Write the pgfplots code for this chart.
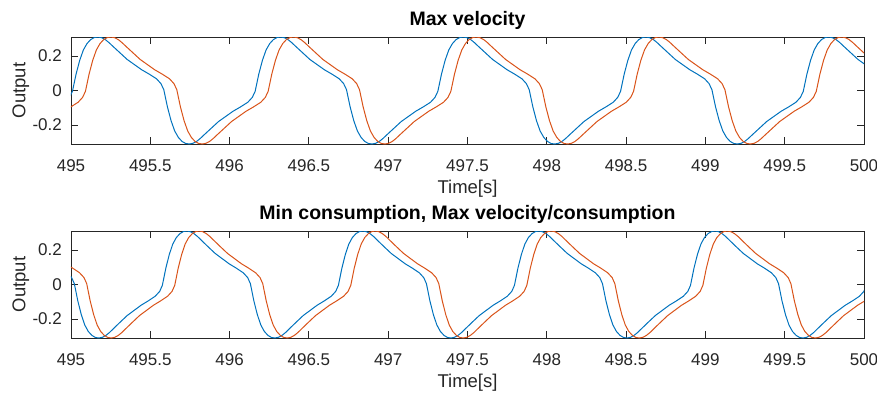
\documentclass[border=0pt]{standalone}
\usepackage{fontspec}
\setmainfont{Liberation Sans}
\usepackage{pgfplots}
\pgfplotsset{compat=1.18}
\definecolor{mblue}{rgb}{0,0.447,0.741}
\definecolor{morange}{rgb}{0.85,0.325,0.098}
\pgfplotsset{
  mstyle/.style={
    scale only axis, width=793pt, height=107pt,
    xmin=495, xmax=500, ymin=-0.31, ymax=0.31,
    xtick={495,495.5,496,496.5,497,497.5,498,498.5,499,499.5,500},
    xticklabels={495,495.5,496,496.5,497,497.5,498,498.5,499,499.5,500},
    ytick={-0.2,0,0.2}, yticklabels={-0.2,0,0.2},
    tick pos=both, tick align=inside, major tick length=7pt,
    axis line style={black!85, line width=0.9pt},
    every tick/.style={black!85, line width=0.9pt},
    xticklabel style={font=\fontsize{17}{17}\selectfont, anchor=base, yshift=-27pt, text=black!85},
    yticklabel style={font=\fontsize{17}{17}\selectfont, anchor=east, inner sep=0pt, xshift=-9pt, text=black!85},
    xlabel={Time[s]}, ylabel={Output},
    xlabel style={font=\fontsize{18.5}{18.5}\selectfont, at={(axis description cs:0.5,0)}, anchor=base, yshift=-49pt, text=black!85},
    ylabel style={font=\fontsize{18.5}{18.5}\selectfont, at={(axis description cs:-0.0574,0.5)}, anchor=base, text=black!85},
    title style={font=\fontsize{19.5}{19.5}\selectfont\bfseries, at={(axis description cs:0.5,1)}, anchor=base, yshift=6pt},
    clip=true,
    every axis plot/.append style={line width=1.0pt},
  }
}
\begin{document}
\begin{tikzpicture}
\useasboundingbox (0,0) rectangle (877pt,392pt);
\begin{axis}[mstyle, at={(71pt,248pt)}, anchor=south west, title={Max velocity}]
\addplot[mblue] coordinates {
(494.963,-0.068) (494.991,-0.040) (495.009,-0.005) (495.032,0.095) (495.055,0.175) (495.078,0.235) (495.101,0.272) (495.124,0.295) (495.147,0.307)
(495.170,0.310) (495.193,0.306) (495.216,0.295) (495.239,0.278) (495.262,0.258) (495.308,0.219) (495.354,0.180) (495.400,0.150) (495.446,0.120) (495.493,0.095) (495.539,0.068) (495.567,0.040) (495.585,0.005) (495.608,-0.095) (495.631,-0.175) (495.654,-0.235) (495.677,-0.272) (495.700,-0.295) (495.723,-0.307)
(495.746,-0.310) (495.769,-0.306) (495.792,-0.295) (495.815,-0.278) (495.838,-0.258) (495.884,-0.219) (495.930,-0.180) (495.976,-0.150) (496.022,-0.120) (496.069,-0.095) (496.115,-0.068) (496.143,-0.040) (496.161,-0.005) (496.184,0.095) (496.207,0.175) (496.230,0.235) (496.253,0.272) (496.276,0.295) (496.299,0.307)
(496.322,0.310) (496.345,0.306) (496.368,0.295) (496.391,0.278) (496.414,0.258) (496.460,0.219) (496.506,0.180) (496.552,0.150) (496.598,0.120) (496.645,0.095) (496.691,0.068) (496.719,0.040) (496.737,0.005) (496.760,-0.095) (496.783,-0.175) (496.806,-0.235) (496.829,-0.272) (496.852,-0.295) (496.875,-0.307)
(496.898,-0.310) (496.921,-0.306) (496.944,-0.295) (496.967,-0.278) (496.990,-0.258) (497.036,-0.219) (497.082,-0.180) (497.128,-0.150) (497.174,-0.120) (497.221,-0.095) (497.267,-0.068) (497.295,-0.040) (497.313,-0.005) (497.336,0.095) (497.359,0.175) (497.382,0.235) (497.405,0.272) (497.428,0.295) (497.451,0.307)
(497.474,0.310) (497.497,0.306) (497.520,0.295) (497.543,0.278) (497.566,0.258) (497.612,0.219) (497.658,0.180) (497.704,0.150) (497.750,0.120) (497.797,0.095) (497.843,0.068) (497.871,0.040) (497.889,0.005) (497.912,-0.095) (497.935,-0.175) (497.958,-0.235) (497.981,-0.272) (498.004,-0.295) (498.027,-0.307)
(498.050,-0.310) (498.073,-0.306) (498.096,-0.295) (498.119,-0.278) (498.142,-0.258) (498.188,-0.219) (498.234,-0.180) (498.280,-0.150) (498.326,-0.120) (498.373,-0.095) (498.419,-0.068) (498.447,-0.040) (498.465,-0.005) (498.488,0.095) (498.511,0.175) (498.534,0.235) (498.557,0.272) (498.580,0.295) (498.603,0.307)
(498.626,0.310) (498.649,0.306) (498.672,0.295) (498.695,0.278) (498.718,0.258) (498.764,0.219) (498.810,0.180) (498.856,0.150) (498.902,0.120) (498.949,0.095) (498.995,0.068) (499.023,0.040) (499.041,0.005) (499.064,-0.095) (499.087,-0.175) (499.110,-0.235) (499.133,-0.272) (499.156,-0.295) (499.179,-0.307)
(499.202,-0.310) (499.225,-0.306) (499.248,-0.295) (499.271,-0.278) (499.294,-0.258) (499.340,-0.219) (499.386,-0.180) (499.432,-0.150) (499.478,-0.120) (499.525,-0.095) (499.571,-0.068) (499.599,-0.040) (499.617,-0.005) (499.640,0.095) (499.663,0.175) (499.686,0.235) (499.709,0.272) (499.732,0.295) (499.755,0.307)
(499.778,0.310) (499.801,0.306) (499.824,0.295) (499.847,0.278) (499.870,0.258) (499.916,0.219) (499.962,0.180) (500.008,0.150)
};
\addplot[morange] coordinates {
(494.952,-0.120) (494.999,-0.095) (495.045,-0.068) (495.073,-0.040) (495.091,-0.005) (495.114,0.095) (495.137,0.175) (495.160,0.235) (495.183,0.272) (495.206,0.295) (495.229,0.307)
(495.252,0.310) (495.275,0.306) (495.298,0.295) (495.321,0.278) (495.344,0.258) (495.390,0.219) (495.436,0.180) (495.482,0.150) (495.528,0.120) (495.575,0.095) (495.621,0.068) (495.649,0.040) (495.667,0.005) (495.690,-0.095) (495.713,-0.175) (495.736,-0.235) (495.759,-0.272) (495.782,-0.295) (495.805,-0.307)
(495.828,-0.310) (495.851,-0.306) (495.874,-0.295) (495.897,-0.278) (495.920,-0.258) (495.966,-0.219) (496.012,-0.180) (496.058,-0.150) (496.104,-0.120) (496.151,-0.095) (496.197,-0.068) (496.225,-0.040) (496.243,-0.005) (496.266,0.095) (496.289,0.175) (496.312,0.235) (496.335,0.272) (496.358,0.295) (496.381,0.307)
(496.404,0.310) (496.427,0.306) (496.450,0.295) (496.473,0.278) (496.496,0.258) (496.542,0.219) (496.588,0.180) (496.634,0.150) (496.680,0.120) (496.727,0.095) (496.773,0.068) (496.801,0.040) (496.819,0.005) (496.842,-0.095) (496.865,-0.175) (496.888,-0.235) (496.911,-0.272) (496.934,-0.295) (496.957,-0.307)
(496.980,-0.310) (497.003,-0.306) (497.026,-0.295) (497.049,-0.278) (497.072,-0.258) (497.118,-0.219) (497.164,-0.180) (497.210,-0.150) (497.256,-0.120) (497.303,-0.095) (497.349,-0.068) (497.377,-0.040) (497.395,-0.005) (497.418,0.095) (497.441,0.175) (497.464,0.235) (497.487,0.272) (497.510,0.295) (497.533,0.307)
(497.556,0.310) (497.579,0.306) (497.602,0.295) (497.625,0.278) (497.648,0.258) (497.694,0.219) (497.740,0.180) (497.786,0.150) (497.832,0.120) (497.879,0.095) (497.925,0.068) (497.953,0.040) (497.971,0.005) (497.994,-0.095) (498.017,-0.175) (498.040,-0.235) (498.063,-0.272) (498.086,-0.295) (498.109,-0.307)
(498.132,-0.310) (498.155,-0.306) (498.178,-0.295) (498.201,-0.278) (498.224,-0.258) (498.270,-0.219) (498.316,-0.180) (498.362,-0.150) (498.408,-0.120) (498.455,-0.095) (498.501,-0.068) (498.529,-0.040) (498.547,-0.005) (498.570,0.095) (498.593,0.175) (498.616,0.235) (498.639,0.272) (498.662,0.295) (498.685,0.307)
(498.708,0.310) (498.731,0.306) (498.754,0.295) (498.777,0.278) (498.800,0.258) (498.846,0.219) (498.892,0.180) (498.938,0.150) (498.984,0.120) (499.031,0.095) (499.077,0.068) (499.105,0.040) (499.123,0.005) (499.146,-0.095) (499.169,-0.175) (499.192,-0.235) (499.215,-0.272) (499.238,-0.295) (499.261,-0.307)
(499.284,-0.310) (499.307,-0.306) (499.330,-0.295) (499.353,-0.278) (499.376,-0.258) (499.422,-0.219) (499.468,-0.180) (499.514,-0.150) (499.560,-0.120) (499.607,-0.095) (499.653,-0.068) (499.681,-0.040) (499.699,-0.005) (499.722,0.095) (499.745,0.175) (499.768,0.235) (499.791,0.272) (499.814,0.295) (499.837,0.307)
(499.860,0.310) (499.883,0.306) (499.906,0.295) (499.929,0.278) (499.952,0.258) (499.998,0.219) (500.044,0.180)
};
\end{axis}
\begin{axis}[mstyle, at={(71pt,54pt)}, anchor=south west, title={Min consumption, Max velocity/consumption}]
\addplot[mblue] coordinates {
(494.976,0.068) (495.004,0.040) (495.021,0.005) (495.043,-0.095) (495.065,-0.175) (495.087,-0.235) (495.109,-0.272) (495.132,-0.295) (495.154,-0.307)
(495.176,-0.310) (495.198,-0.306) (495.220,-0.295) (495.243,-0.278) (495.265,-0.258) (495.309,-0.219) (495.354,-0.180) (495.398,-0.150) (495.442,-0.120) (495.487,-0.095) (495.531,-0.068) (495.559,-0.040) (495.576,-0.005) (495.598,0.095) (495.620,0.175) (495.642,0.235) (495.664,0.272) (495.687,0.295) (495.709,0.307)
(495.731,0.310) (495.753,0.306) (495.775,0.295) (495.798,0.278) (495.820,0.258) (495.864,0.219) (495.909,0.180) (495.953,0.150) (495.997,0.120) (496.042,0.095) (496.086,0.068) (496.114,0.040) (496.131,0.005) (496.153,-0.095) (496.175,-0.175) (496.197,-0.235) (496.219,-0.272) (496.242,-0.295) (496.264,-0.307)
(496.286,-0.310) (496.308,-0.306) (496.330,-0.295) (496.353,-0.278) (496.375,-0.258) (496.419,-0.219) (496.464,-0.180) (496.508,-0.150) (496.552,-0.120) (496.597,-0.095) (496.641,-0.068) (496.669,-0.040) (496.686,-0.005) (496.708,0.095) (496.730,0.175) (496.752,0.235) (496.774,0.272) (496.797,0.295) (496.819,0.307)
(496.841,0.310) (496.863,0.306) (496.885,0.295) (496.908,0.278) (496.930,0.258) (496.974,0.219) (497.019,0.180) (497.063,0.150) (497.107,0.120) (497.152,0.095) (497.196,0.068) (497.224,0.040) (497.241,0.005) (497.263,-0.095) (497.285,-0.175) (497.307,-0.235) (497.329,-0.272) (497.352,-0.295) (497.374,-0.307)
(497.396,-0.310) (497.418,-0.306) (497.440,-0.295) (497.463,-0.278) (497.485,-0.258) (497.529,-0.219) (497.574,-0.180) (497.618,-0.150) (497.662,-0.120) (497.707,-0.095) (497.751,-0.068) (497.779,-0.040) (497.796,-0.005) (497.818,0.095) (497.840,0.175) (497.862,0.235) (497.884,0.272) (497.907,0.295) (497.929,0.307)
(497.951,0.310) (497.973,0.306) (497.995,0.295) (498.018,0.278) (498.040,0.258) (498.084,0.219) (498.129,0.180) (498.173,0.150) (498.217,0.120) (498.262,0.095) (498.306,0.068) (498.334,0.040) (498.351,0.005) (498.373,-0.095) (498.395,-0.175) (498.417,-0.235) (498.439,-0.272) (498.462,-0.295) (498.484,-0.307)
(498.506,-0.310) (498.528,-0.306) (498.550,-0.295) (498.573,-0.278) (498.595,-0.258) (498.639,-0.219) (498.684,-0.180) (498.728,-0.150) (498.772,-0.120) (498.817,-0.095) (498.861,-0.068) (498.889,-0.040) (498.906,-0.005) (498.928,0.095) (498.950,0.175) (498.972,0.235) (498.994,0.272) (499.017,0.295) (499.039,0.307)
(499.061,0.310) (499.083,0.306) (499.105,0.295) (499.128,0.278) (499.150,0.258) (499.194,0.219) (499.239,0.180) (499.283,0.150) (499.327,0.120) (499.372,0.095) (499.416,0.068) (499.444,0.040) (499.461,0.005) (499.483,-0.095) (499.505,-0.175) (499.527,-0.235) (499.549,-0.272) (499.572,-0.295) (499.594,-0.307)
(499.616,-0.310) (499.638,-0.306) (499.660,-0.295) (499.683,-0.278) (499.705,-0.258) (499.749,-0.219) (499.794,-0.180) (499.838,-0.150) (499.882,-0.120) (499.927,-0.095) (499.971,-0.068) (499.999,-0.040) (500.016,-0.005)
};
\addplot[morange] coordinates {
(494.965,0.120) (495.010,0.095) (495.054,0.068) (495.082,0.040) (495.099,0.005) (495.121,-0.095) (495.143,-0.175) (495.165,-0.235) (495.187,-0.272) (495.210,-0.295) (495.232,-0.307)
(495.254,-0.310) (495.276,-0.306) (495.298,-0.295) (495.321,-0.278) (495.343,-0.258) (495.387,-0.219) (495.432,-0.180) (495.476,-0.150) (495.520,-0.120) (495.565,-0.095) (495.609,-0.068) (495.637,-0.040) (495.654,-0.005) (495.676,0.095) (495.698,0.175) (495.720,0.235) (495.742,0.272) (495.765,0.295) (495.787,0.307)
(495.809,0.310) (495.831,0.306) (495.853,0.295) (495.876,0.278) (495.898,0.258) (495.942,0.219) (495.987,0.180) (496.031,0.150) (496.075,0.120) (496.120,0.095) (496.164,0.068) (496.192,0.040) (496.209,0.005) (496.231,-0.095) (496.253,-0.175) (496.275,-0.235) (496.297,-0.272) (496.320,-0.295) (496.342,-0.307)
(496.364,-0.310) (496.386,-0.306) (496.408,-0.295) (496.431,-0.278) (496.453,-0.258) (496.497,-0.219) (496.542,-0.180) (496.586,-0.150) (496.630,-0.120) (496.675,-0.095) (496.719,-0.068) (496.747,-0.040) (496.764,-0.005) (496.786,0.095) (496.808,0.175) (496.830,0.235) (496.852,0.272) (496.875,0.295) (496.897,0.307)
(496.919,0.310) (496.941,0.306) (496.963,0.295) (496.986,0.278) (497.008,0.258) (497.052,0.219) (497.097,0.180) (497.141,0.150) (497.185,0.120) (497.230,0.095) (497.274,0.068) (497.302,0.040) (497.319,0.005) (497.341,-0.095) (497.363,-0.175) (497.385,-0.235) (497.407,-0.272) (497.430,-0.295) (497.452,-0.307)
(497.474,-0.310) (497.496,-0.306) (497.518,-0.295) (497.541,-0.278) (497.563,-0.258) (497.607,-0.219) (497.652,-0.180) (497.696,-0.150) (497.740,-0.120) (497.785,-0.095) (497.829,-0.068) (497.857,-0.040) (497.874,-0.005) (497.896,0.095) (497.918,0.175) (497.940,0.235) (497.962,0.272) (497.985,0.295) (498.007,0.307)
(498.029,0.310) (498.051,0.306) (498.073,0.295) (498.096,0.278) (498.118,0.258) (498.162,0.219) (498.207,0.180) (498.251,0.150) (498.295,0.120) (498.340,0.095) (498.384,0.068) (498.412,0.040) (498.429,0.005) (498.451,-0.095) (498.473,-0.175) (498.495,-0.235) (498.517,-0.272) (498.540,-0.295) (498.562,-0.307)
(498.584,-0.310) (498.606,-0.306) (498.628,-0.295) (498.651,-0.278) (498.673,-0.258) (498.717,-0.219) (498.762,-0.180) (498.806,-0.150) (498.850,-0.120) (498.895,-0.095) (498.939,-0.068) (498.967,-0.040) (498.984,-0.005) (499.006,0.095) (499.028,0.175) (499.050,0.235) (499.072,0.272) (499.095,0.295) (499.117,0.307)
(499.139,0.310) (499.161,0.306) (499.183,0.295) (499.206,0.278) (499.228,0.258) (499.272,0.219) (499.317,0.180) (499.361,0.150) (499.405,0.120) (499.450,0.095) (499.494,0.068) (499.522,0.040) (499.539,0.005) (499.561,-0.095) (499.583,-0.175) (499.605,-0.235) (499.627,-0.272) (499.650,-0.295) (499.672,-0.307)
(499.694,-0.310) (499.716,-0.306) (499.738,-0.295) (499.761,-0.278) (499.783,-0.258) (499.827,-0.219) (499.872,-0.180) (499.916,-0.150) (499.960,-0.120) (500.005,-0.095)
};
\end{axis}
\end{tikzpicture}
\end{document}
